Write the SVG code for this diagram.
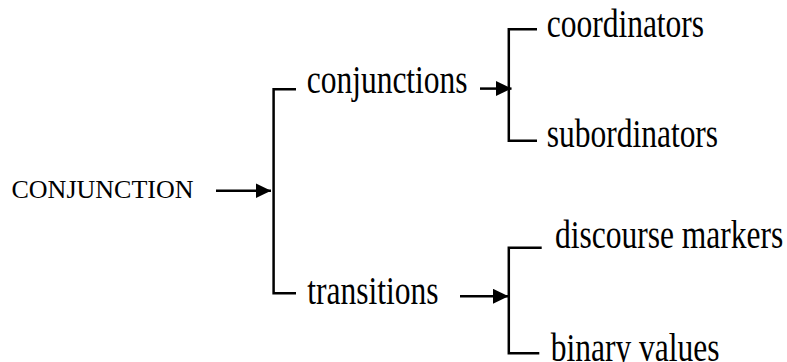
<svg xmlns="http://www.w3.org/2000/svg" width="787" height="362" viewBox="0 0 787 362">
<style>
.lbl{font-family:"Liberation Serif","Times New Roman",serif;font-size:31.5px;fill:#000}
.root{font-family:"Liberation Serif","Times New Roman",serif;font-size:26px;fill:#000}
.ln{fill:none;stroke:#000;stroke-width:2.5}
</style>
<defs>
<marker id="ah" markerUnits="userSpaceOnUse" markerWidth="17" markerHeight="16" refX="15.5" refY="7.5" orient="auto">
<path d="M0,0 L15.5,7.5 L0,15 Z" fill="#000"/>
</marker>
</defs>
<rect width="787" height="362" fill="#fff"/>
<g id="connectors">
<path class="ln" d="M216,190.8 H271" marker-end="url(#ah)"/>
<path class="ln" d="M296,89.3 H273.6 V293.3 H296"/>
<path class="ln" d="M480,88.6 H511.5" marker-end="url(#ah)"/>
<path class="ln" d="M537,29.3 H508.8 V140.7 H537"/>
<path class="ln" d="M460,296.3 H508.5" marker-end="url(#ah)"/>
<path class="ln" d="M541.7,247.7 H508.8 V353.3 H539.3"/>
</g>
<g id="node-conjunction"><text class="root" x="11.5" y="198">CONJUNCTION</text></g>
<g id="node-conjunctions"><text class="lbl" transform="translate(306.7,93.3) scale(1,1.25)">conjunctions</text></g>
<g id="node-transitions"><text class="lbl" transform="translate(307.3,304.3) scale(1,1.25)">transitions</text></g>
<g id="node-coordinators"><text class="lbl" transform="translate(546.7,37.3) scale(1,1.25)">coordinators</text></g>
<g id="node-subordinators"><text class="lbl" transform="translate(546.7,147) scale(1,1.25)">subordinators</text></g>
<g id="node-discourse"><text class="lbl" transform="translate(555,248.3) scale(1,1.25)">discourse markers</text></g>
<g id="node-binary"><text class="lbl" transform="translate(550.7,361) scale(1,1.25)">binary values</text></g>
</svg>
